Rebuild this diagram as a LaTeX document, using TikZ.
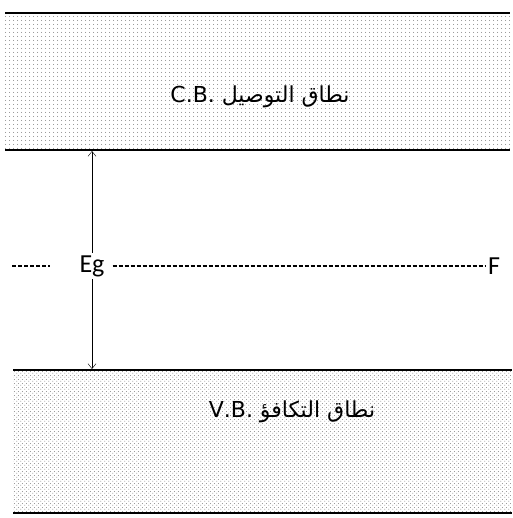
\documentclass[tikz,border=0pt]{standalone}
\usepackage{fontspec}
\setmainfont{Liberation Sans}
\newfontfamily\arabicfont[Script=Arabic]{DejaVu Sans}
\newfontfamily\calfont{Carlito}
\TeXXeTstate=1
\usepackage{xcolor}
\definecolor{banddot}{RGB}{120,120,120}
\usetikzlibrary{arrows.meta, patterns, positioning}
\pgfdeclarepatternformonly{cbdots}{\pgfpointorigin}{\pgfpoint{4pt}{4pt}}{\pgfpoint{4pt}{4pt}}%
  {\pgfpathcircle{\pgfpoint{2pt}{2pt}}{0.6pt}\pgfusepath{fill}}
\pgfdeclarepatternformonly{vbdots}{\pgfpointorigin}{\pgfpoint{4pt}{4pt}}{\pgfpoint{4pt}{4pt}}%
  {\pgfpathcircle{\pgfpoint{1pt}{1pt}}{0.6pt}\pgfpathcircle{\pgfpoint{3pt}{3pt}}{0.6pt}\pgfusepath{fill}}

\begin{document}
\begin{tikzpicture}[x=1pt, y=-1pt,
    bandline/.style={line width=2pt},
    bandtext/.style={font=\fontsize{22}{26}\selectfont},
    levellabel/.style={font=\calfont\fontsize{26}{30}\selectfont, inner sep=2pt},
    fermiline/.style={dash pattern=on 4pt off 2pt, line width=1.4pt}]
        \useasboundingbox (0,0) rectangle (512,518);
        % conduction band
        \fill[pattern=cbdots, pattern color=banddot] (5,14) rectangle (510,149);
        \draw[bandline] (5,13) -- (510,13);
        \draw[bandline] (5,150) -- (510,150);
        \node[bandtext] (cb) at (260,97) {\arabicfont\beginR نطاق التوصيل \beginL C.B.\endL\endR};
        % valence band
        \fill[pattern=vbdots, pattern color=banddot] (13,371) rectangle (512,512);
        \draw[bandline] (13,370) -- (512,370);
        \draw[bandline] (13,513) -- (512,513);
        \node[bandtext] (vb) at (292,412) {\arabicfont\beginR نطاق التكافؤ \beginL V.B.\endL\endR};
        % gap and fermi level
        \coordinate (gaptop) at (92,151);
        \coordinate (gapbot) at (92,369);
        \draw[{Straight Barb[length=5pt,width=8pt]}-{Straight Barb[length=5pt,width=8pt]}] (gaptop) -- (gapbot);
        \node[levellabel, fill=white] (eg) at (92,266) {Eg};
        \node[levellabel] (f) at (494,266) {F};
        \coordinate (fleft) at (12,266);
        \coordinate (fstop) at (50,266);
        \draw[fermiline] (fleft) -- (fstop);
        \draw[fermiline] (eg.east) ++(6,0) -- (f.west);
      \end{tikzpicture}
\end{document}
